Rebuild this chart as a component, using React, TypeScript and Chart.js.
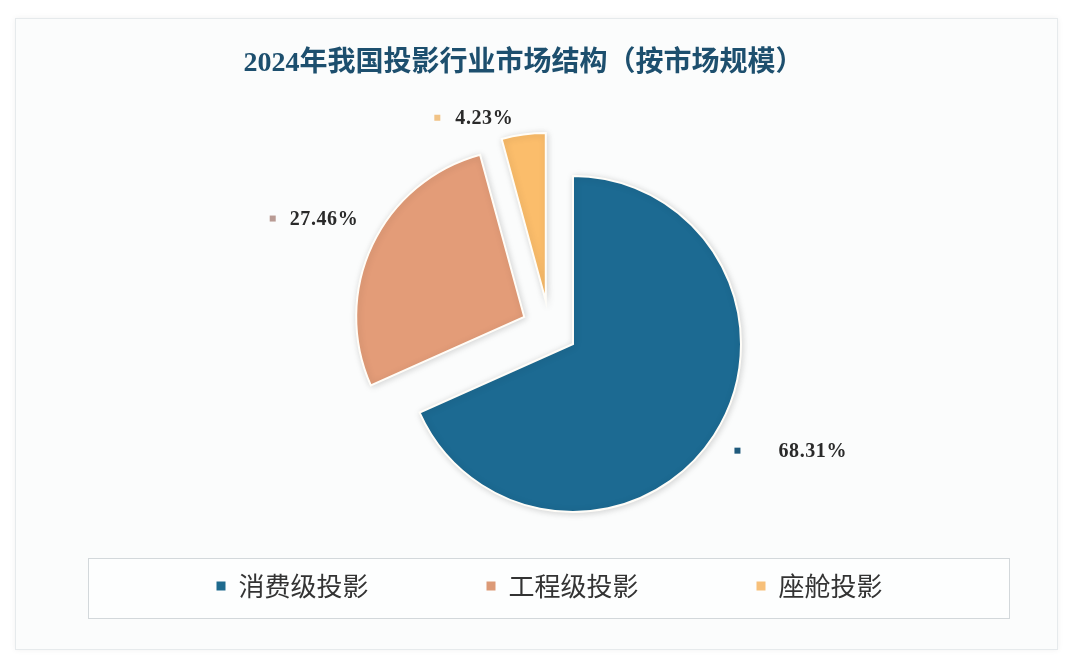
import React, { useEffect, useRef } from 'react';
import { Chart, registerables } from 'chart.js';

Chart.register(...registerables);

// ---- data ----
const TITLE = '2024年我国投影行业市场结构（按市场规模）';
const categories = ['消费级投影', '工程级投影', '座舱投影'];
const shares = [68.31, 27.46, 4.23];

// ---- styles ----
const sliceColors = ['#1c6a92', '#e39c78', '#fbbd6b'];
const legendColors = ['#1e6a8e', '#dc9a77', '#f7c07a'];
const labelMarkerColors = ['#1f5a7c', '#b99b94', '#f1c386'];
const EXPLODE = 28;
const LABEL_POLAR = [
  { dAngle: 0, dist: 196, gap: 41 },
  { dAngle: -4, dist: 270, gap: 17 },
  { dAngle: -23, dist: 213, gap: 18 },
];
const TITLE_SHIFT = -26;

const explodePlugin = {
  id: 'explodeSlices',
  beforeDatasetsDraw(chart: any) {
    const ca = chart.chartArea;
    const cx = (ca.left + ca.right) / 2;
    const cy = (ca.top + ca.bottom) / 2;
    const meta = chart.getDatasetMeta(0);
    meta.data.forEach((arc: any) => {
      const mid = (arc.startAngle + arc.endAngle) / 2;
      arc.x = cx + Math.cos(mid) * EXPLODE;
      arc.y = cy + Math.sin(mid) * EXPLODE;
    });
  },
  beforeDatasetDraw(chart: any) {
    const ctx = chart.ctx;
    ctx.save();
    ctx.shadowColor = 'rgba(0,0,0,0.16)';
    ctx.shadowBlur = 7;
    ctx.shadowOffsetX = 1;
    ctx.shadowOffsetY = 1;
  },
  afterDatasetDraw(chart: any) {
    chart.ctx.restore();
  },
};

const labelPlugin = {
  id: 'sliceLabels',
  afterDatasetsDraw(chart: any) {
    const ctx = chart.ctx;
    const meta = chart.getDatasetMeta(0);
    const data = chart.data.datasets[0].data as number[];
    ctx.save();
    meta.data.forEach((arc: any, i: number) => {
      const lp = LABEL_POLAR[i];
      const ang = (arc.startAngle + arc.endAngle) / 2 + (lp.dAngle * Math.PI) / 180;
      const mx = arc.x + Math.cos(ang) * lp.dist;
      const my = arc.y + Math.sin(ang) * lp.dist;
      ctx.fillStyle = labelMarkerColors[i];
      ctx.fillRect(mx - 3, my - 3, 6, 6);
      ctx.font = 'bold 20px "Liberation Serif", "DejaVu Serif", serif';
      try {
        (ctx as any).letterSpacing = '0.6px';
      } catch (e) {
        /* ignore */
      }
      ctx.fillStyle = '#2a2a2a';
      ctx.textAlign = 'left';
      ctx.textBaseline = 'middle';
      ctx.fillText(`${data[i].toFixed(2)}%`, mx + lp.gap, my + 1);
    });
    ctx.restore();
  },
};

const titleShiftPlugin = {
  id: 'titleShift',
  afterLayout(chart: any) {
    const t = chart.titleBlock;
    if (t) {
      t.left += TITLE_SHIFT;
      t.right += TITLE_SHIFT;
    }
  },
};

export default function App() {
  const ref = useRef<HTMLCanvasElement | null>(null);

  useEffect(() => {
    if (!ref.current) return;
    const chart = new Chart(ref.current, {
      type: 'pie',
      data: {
        labels: categories,
        datasets: [
          {
            data: shares,
            backgroundColor: sliceColors,
            borderColor: '#fffdf8',
            borderWidth: 2,
            borderJoinStyle: 'miter',
            radius: 168,
            clip: false,
          } as any,
        ],
      },
      options: {
        responsive: false,
        animation: false,
        layout: { padding: { left: 19, right: 0, top: 0, bottom: 56 } },
        plugins: {
          title: {
            display: true,
            text: TITLE,
            color: '#1d4f6e',
            font: { size: 28, weight: 'bold', family: '"Liberation Serif", "Noto Sans CJK SC", serif' },
            padding: { top: 47, bottom: 122 },
          },
          legend: {
            display: true,
            position: 'bottom',
            labels: {
              boxWidth: 9,
              boxHeight: 9,
              padding: 118,
              color: '#333333',
              font: { size: 26, family: '"Noto Sans CJK SC", "Noto Sans", sans-serif' },
              generateLabels: (c: any) => {
                const base = (Chart as any).overrides.pie.plugins.legend.labels.generateLabels(c);
                return base.map((it: any, i: number) => ({
                  ...it,
                  fillStyle: legendColors[i],
                  strokeStyle: legendColors[i],
                  lineWidth: 0,
                }));
              },
            },
          },
          tooltip: { enabled: false },
        },
      },
      plugins: [explodePlugin, labelPlugin, titleShiftPlugin],
    });
    return () => chart.destroy();
  }, []);

  return (
    <div
      style={{
        position: 'fixed',
        left: 0,
        top: 0,
        width: 1080,
        height: 665,
        background: '#ffffff',
        overflow: 'hidden',
      }}
    >
      <div
        style={{
          position: 'absolute',
          left: 15,
          top: 18,
          width: 1043,
          height: 632,
          background: '#fbfcfc',
          border: '1px solid #e6eaec',
          boxShadow: '0 0 6px rgba(0,0,0,0.06)',
          boxSizing: 'border-box',
        }}
      />
      <div
        style={{
          position: 'absolute',
          left: 88,
          top: 558,
          width: 922,
          height: 61,
          border: '1px solid #d3d8db',
          boxSizing: 'border-box',
          background: '#fdfefe',
        }}
      />
      <canvas
        ref={ref}
        width={1080}
        height={665}
        style={{ position: 'absolute', left: 0, top: 0, width: 1080, height: 665 }}
      />
    </div>
  );
}
